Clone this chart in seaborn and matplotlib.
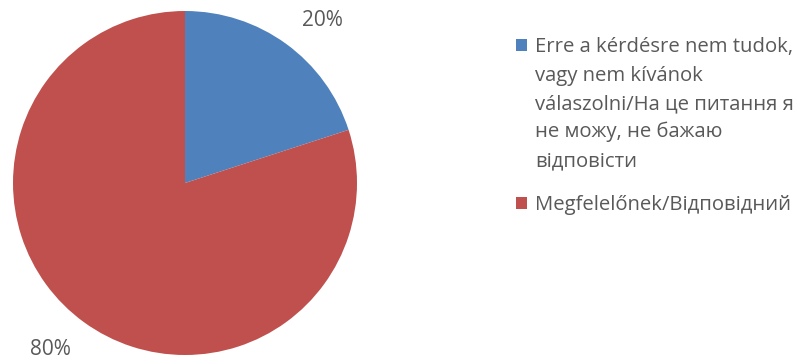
import matplotlib
matplotlib.use("Agg")
import matplotlib.pyplot as plt
from matplotlib.patches import Rectangle
import seaborn as sns

categories = [
    ["Erre a kérdésre nem tudok,", "vagy nem kívánok",
     "válaszolni/На це питання я", "не можу, не бажаю", "відповісти"],
    ["Megfelelőnek/Відповідний"],
]
shares = [20, 80]
pct_labels = ["20%", "80%"]
colors = ["#4F81BD", "#C0504D"]

sns.set_theme(style="white")
plt.rcParams["font.family"] = ["Open Sans", "DejaVu Sans"]
text_color = "#595959"

W, H = 807, 360
fig = plt.figure(figsize=(W / 100, H / 100), dpi=100)


def fx(px):
    return px / W


def fy(py):
    return 1 - py / H


ax = fig.add_axes([fx(13), 5 / H, 344 / W, 344 / H])
ax.pie(shares, colors=colors, startangle=90, counterclock=False,
       radius=1.0, wedgeprops=dict(linewidth=0))
ax.set_xlim(-1, 1)
ax.set_ylim(-1, 1)
ax.set_aspect("equal")
ax.axis("off")

# percentage labels outside the slices
pct_pos = [(322, 26.5), (50, 355)]
for (x, y), txt in zip(pct_pos, pct_labels):
    fig.text(fx(x), fy(y), txt, ha="center", va="baseline",
             fontsize=15, color=text_color)

# legend: square key aligned with the first line of each entry
entry_baselines = [52, 210]
line_step = 28.5
for lines, color, base in zip(categories, colors, entry_baselines):
    fig.patches.append(Rectangle((fx(516), fy(base - 1)), 11 / W, 12 / H,
                                 transform=fig.transFigure, facecolor=color,
                                 edgecolor="none"))
    for i, line in enumerate(lines):
        fig.text(fx(535), fy(base + i * line_step), line, ha="left",
                 va="baseline", fontsize=14.6, color=text_color)

fig.savefig("out.png", dpi=100)
